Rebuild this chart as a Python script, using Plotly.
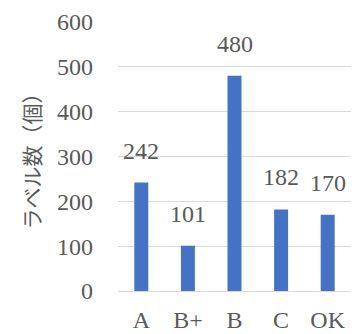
import plotly.graph_objects as go

categories = ["A", "B+", "B", "C", "OK"]
values = [242, 101, 480, 182, 170]
y_ticks = [0, 100, 200, 300, 400, 500, 600]
y_title = "ラベル数（個）"

bar_color = "#4472C4"
text_color = "#595959"
grid_color = "#D9D9D9"
serif = "Liberation Serif"

fig = go.Figure()
fig.add_trace(go.Bar(x=categories, y=values, marker_color=bar_color,
                     marker_line_width=0, width=0.3))

for c, v in zip(categories, values):
    fig.add_annotation(x=c, y=v, text=str(v), showarrow=False,
                       yanchor="bottom", yshift=17,
                       font=dict(family=serif, size=24, color=text_color))

fig.add_annotation(text=y_title, xref="paper", yref="paper", x=0, y=0.5,
                   xanchor="center", yanchor="middle", xshift=-88,
                   textangle=-90, showarrow=False,
                   font=dict(family="Noto Sans CJK JP", size=21, color=text_color))

fig.update_layout(
    width=356, height=334,
    margin=dict(l=118, r=5, t=22, b=43),
    plot_bgcolor="white", paper_bgcolor="white",
    showlegend=False,
    font=dict(family=serif, size=23, color=text_color),
)
fig.update_xaxes(showgrid=False, showline=True, linecolor=grid_color, linewidth=1,
                 ticks="", ticklabelstandoff=7, automargin=False,
                 tickfont=dict(family=serif, size=24, color=text_color))
fig.update_yaxes(range=[0, 600], tickvals=y_ticks, showgrid=True,
                 gridcolor=grid_color, gridwidth=1, zeroline=False,
                 showline=False, ticks="", ticklabelstandoff=24, automargin=False,
                 tickfont=dict(family=serif, size=24, color=text_color))

fig.write_html("out.html")
